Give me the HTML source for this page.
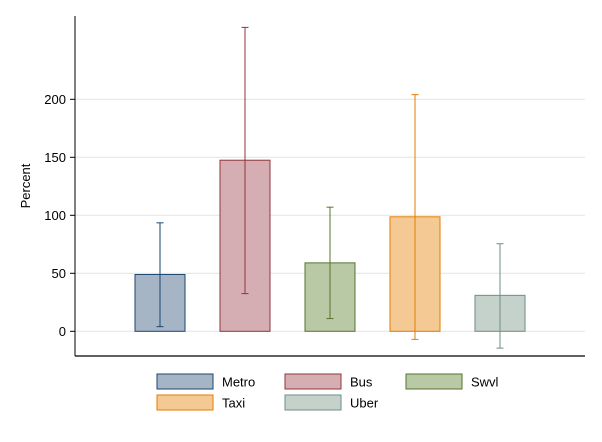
<!DOCTYPE html>
<html><head><meta charset="utf-8"><style>
body{margin:0;background:#fff;font-family:"Liberation Sans",Arial,sans-serif}
svg text{font-family:"Liberation Sans",Arial,sans-serif}
</style></head><body>
<svg width="602" height="437" xmlns="http://www.w3.org/2000/svg">
<g id="grid"></g><g id="bars"></g><g id="axis"></g><g id="legend"></g>
</svg>
<script>
const categories=["Metro","Bus","Swvl","Taxi","Uber"];
const values=[49,147.5,59,98.7,31];
const errLow=[4,32.5,11,-7,-14.5];
const errHigh=[93.5,262,107,204,75.5];
const ticks=[0,50,100,150,200];
const fills=["#a5b5c6","#d4aeb2","#b9c8a5","#f4c994","#c5d1cb"];
const strokes=["#1a476f","#90353b","#55752f","#e37e00","#6e8e84"];
const NS="http://www.w3.org/2000/svg";
function mk(t,a,p){const e=document.createElementNS(NS,t);for(const k in a)e.setAttribute(k,a[k]);p.appendChild(e);return e;}
const y=v=>331.3-v*(331.3-273.3)/50;
const x=i=>160+i*85;
const grid=document.getElementById('grid'),bars=document.getElementById('bars'),axis=document.getElementById('axis'),leg=document.getElementById('legend');
ticks.forEach(t=>{
 const g=mk('line',{x1:75,x2:585,y1:y(t),y2:y(t),stroke:'#e4e4e4','stroke-width':1},grid);
 
 
 const tk=mk('line',{x1:70,x2:75,y1:y(t),y2:y(t),stroke:'#000'},axis);
 
 
 const l=mk('text',{x:66,y:y(t)+4.5,'text-anchor':'end','font-size':13},axis);
 l.textContent=t;
 
 
});
const al=mk('line',{x1:75,x2:75,y1:16,y2:356,stroke:'#000','stroke-width':1},axis);


const bl=mk('line',{x1:75,x2:585,y1:356,y2:356,stroke:'#000','stroke-width':1.3},axis);


const yt=mk('text',{x:30,y:186,'text-anchor':'middle','font-size':13,transform:'rotate(-90 30 186)'},axis);
yt.textContent='Percent';


categories.forEach((c,i)=>{
 const top=Math.min(y(values[i]),y(0));
 const b=mk('rect',{x:x(i)-25,y:top,width:50,height:Math.abs(y(0)-y(values[i])),fill:fills[i],stroke:strokes[i],'stroke-width':1},bars);
 
 
 const e=mk('g',{stroke:strokes[i],'stroke-width':1},bars);
 
 
 mk('line',{x1:x(i),x2:x(i),y1:y(errHigh[i]),y2:y(errLow[i])},e);
 mk('line',{x1:x(i)-3.5,x2:x(i)+3.5,y1:y(errHigh[i]),y2:y(errHigh[i])},e);
 mk('line',{x1:x(i)-3.5,x2:x(i)+3.5,y1:y(errLow[i]),y2:y(errLow[i])},e);
 const lx=[157,285,406,157,285][i], ly=i<3?374:395;
 const g=mk('g',{},leg);
 
 
 mk('rect',{x:lx,y:ly,width:56,height:15,fill:fills[i],stroke:strokes[i]},g);
 const t=mk('text',{x:lx+65,y:ly+12.5,'font-size':13},g);t.textContent=c;
});
</script>
</body></html>
